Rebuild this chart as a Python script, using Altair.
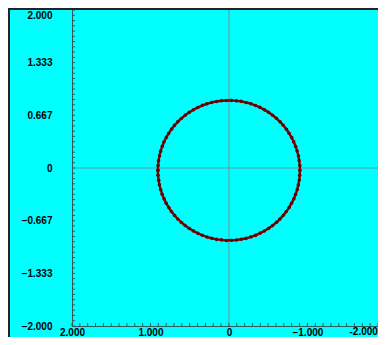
import altair as alt
import pandas as pd

# ring of measured points (x, y)
ring_x = [0.905, 0.903, 0.897, 0.884, 0.871, 0.849, 0.828, 0.798, 0.768, 0.731,
          0.694, 0.650, 0.607, 0.556, 0.507, 0.452, 0.398, 0.338, 0.281, 0.218,
          0.158, 0.094, 0.033, -0.031, -0.096, -0.156, -0.220, -0.279, -0.340, -0.396,
          -0.454, -0.505, -0.558, -0.605, -0.652, -0.692, -0.733, -0.766, -0.800, -0.826,
          -0.851, -0.869, -0.886, -0.895, -0.904,
          -0.905, -0.902, -0.897, -0.884, -0.871, -0.849, -0.828, -0.798, -0.768, -0.731,
          -0.694, -0.650, -0.607, -0.556, -0.507, -0.452, -0.398, -0.338, -0.281, -0.218,
          -0.158, -0.094, -0.033, 0.031, 0.096, 0.156, 0.220, 0.279, 0.340, 0.396,
          0.454, 0.505, 0.558, 0.605, 0.652, 0.692, 0.733, 0.766, 0.800, 0.826,
          0.851, 0.869, 0.886, 0.895, 0.904]
ring_y = [-0.030, 0.032, 0.092, 0.155, 0.213, 0.274, 0.329, 0.387, 0.438, 0.492,
          0.539, 0.587, 0.627, 0.669, 0.704, 0.738, 0.765, 0.793, 0.812, 0.831,
          0.842, 0.852, 0.855, 0.856, 0.850, 0.844, 0.829, 0.814, 0.791, 0.767,
          0.736, 0.706, 0.667, 0.629, 0.584, 0.541, 0.490, 0.440, 0.385, 0.331,
          0.272, 0.215, 0.153, 0.094, 0.031,
          -0.030, -0.093, -0.152, -0.215, -0.273, -0.334, -0.389, -0.447, -0.499, -0.552,
          -0.599, -0.647, -0.687, -0.729, -0.764, -0.798, -0.825, -0.853, -0.872, -0.891,
          -0.902, -0.912, -0.915, -0.917, -0.910, -0.904, -0.889, -0.874, -0.851, -0.827,
          -0.796, -0.766, -0.727, -0.689, -0.645, -0.601, -0.550, -0.501, -0.445, -0.391,
          -0.332, -0.275, -0.213, -0.154, -0.091]

x_label_values = [2, 1, 0, -1]
x_edge_label = [-2]
y_label_values = [2, 1.333, 0.667, 0, -0.667, -1.333, -2]
x_minor_ticks = [round(2 - 0.1 * i, 3) for i in range(40)]
y_minor_ticks = [round(2 - (2 / 30) * i, 4) for i in range(61)]

W, H = 306, 316
AXIS_COLOR = "#2f5a5a"
ZERO_COLOR = "#5f9a9a"
RING_COLOR = "#7a0000"
BG = "#00FFFF"

# the right end of the x range runs off the visible window, as in the original
xscale = alt.Scale(domain=[2, -1.9], nice=False, zero=False)
yscale = alt.Scale(domain=[-2, 2], nice=False, zero=False)

label_expr = "datum.value == 0 ? '0' : format(datum.value, '.3f')"

x_axis = alt.Axis(values=x_label_values, labelExpr=label_expr, ticks=False, tickSize=0,
                  grid=False, domainColor=AXIS_COLOR, domainWidth=1, title=None,
                  labelFont="Liberation Sans", labelFontWeight="bold", labelFontSize=10,
                  labelColor="black", labelPadding=1, labelFlush=False, labelOverlap=False,
                  labelBound=False)
y_axis = alt.Axis(values=y_label_values, labelExpr=label_expr, ticks=False, tickSize=0,
                  grid=False, domainColor=AXIS_COLOR, domainWidth=1, title=None,
                  labelFont="Liberation Sans", labelFontWeight="bold", labelFontSize=10,
                  labelColor="black", labelPadding=20, labelFlush=False, labelOverlap=False,
                  labelBaseline={"condition": {"test": "datum.value == 2", "value": "top"},
                                 "value": "middle"})

n = len(ring_x)
ring = pd.DataFrame({
    "x": ring_x + [ring_x[0]],
    "y": ring_y + [ring_y[0]],
    "i": list(range(n + 1)),
})

ring_line = alt.Chart(ring).mark_line(color=RING_COLOR, strokeWidth=2.4).encode(
    x=alt.X("x:Q", scale=xscale, axis=x_axis),
    y=alt.Y("y:Q", scale=yscale, axis=y_axis),
    order="i:Q",
)
ring_pts = alt.Chart(ring).mark_circle(color="#6a0000", size=13, opacity=1).encode(
    x=alt.X("x:Q", scale=xscale, axis=x_axis),
    y=alt.Y("y:Q", scale=yscale, axis=y_axis),
)

zero = pd.DataFrame({"z": [0]})
zero_v = alt.Chart(zero).mark_rule(color=ZERO_COLOR, strokeWidth=1).encode(
    x=alt.X("z:Q", scale=xscale, axis=x_axis))
zero_h = alt.Chart(zero).mark_rule(color=ZERO_COLOR, strokeWidth=1).encode(
    y=alt.Y("z:Q", scale=yscale, axis=y_axis))

xt = pd.DataFrame({"t": x_minor_ticks})
yt = pd.DataFrame({"t": y_minor_ticks})
x_ticks = alt.Chart(xt).mark_rule(color=AXIS_COLOR, strokeWidth=1).encode(
    x=alt.X("t:Q", scale=xscale, axis=x_axis), y=alt.value(H), y2=alt.value(H - 3))
y_ticks = alt.Chart(yt).mark_rule(color=AXIS_COLOR, strokeWidth=1).encode(
    y=alt.Y("t:Q", scale=yscale, axis=y_axis), x=alt.value(0), x2=alt.value(3))

# the last x label sits at the window's right edge
edge = pd.DataFrame({"v": x_edge_label, "lbl": ["%.3f" % v for v in x_edge_label]})
edge_label = alt.Chart(edge).mark_text(
    align="right", baseline="top", dx=-8, font="Liberation Sans", fontWeight="bold",
    fontSize=10, color="black"
).encode(x=alt.X("v:Q", scale=xscale, axis=x_axis), y=alt.value(H + 1), text="lbl:N")

border_left = alt.Chart(zero).mark_rule(color="#222222", strokeWidth=2).encode(
    x=alt.value(-63), y=alt.value(-2), y2=alt.value(H + 12))
border_top = alt.Chart(zero).mark_rule(color="#222222", strokeWidth=2).encode(
    x=alt.value(-64), x2=alt.value(W), y=alt.value(-1))

chart = alt.layer(
    zero_v, zero_h, x_ticks, y_ticks, ring_line, ring_pts, edge_label,
    border_left, border_top
).properties(
    width=W, height=H,
    padding={"left": 64, "top": 2, "right": 0, "bottom": 11},
    autosize=alt.AutoSizeParams(type="none"),
).configure(background=BG).configure_view(stroke=None, fill=BG)

chart.save("out.html", embed_options={"renderer": "svg", "actions": False})
